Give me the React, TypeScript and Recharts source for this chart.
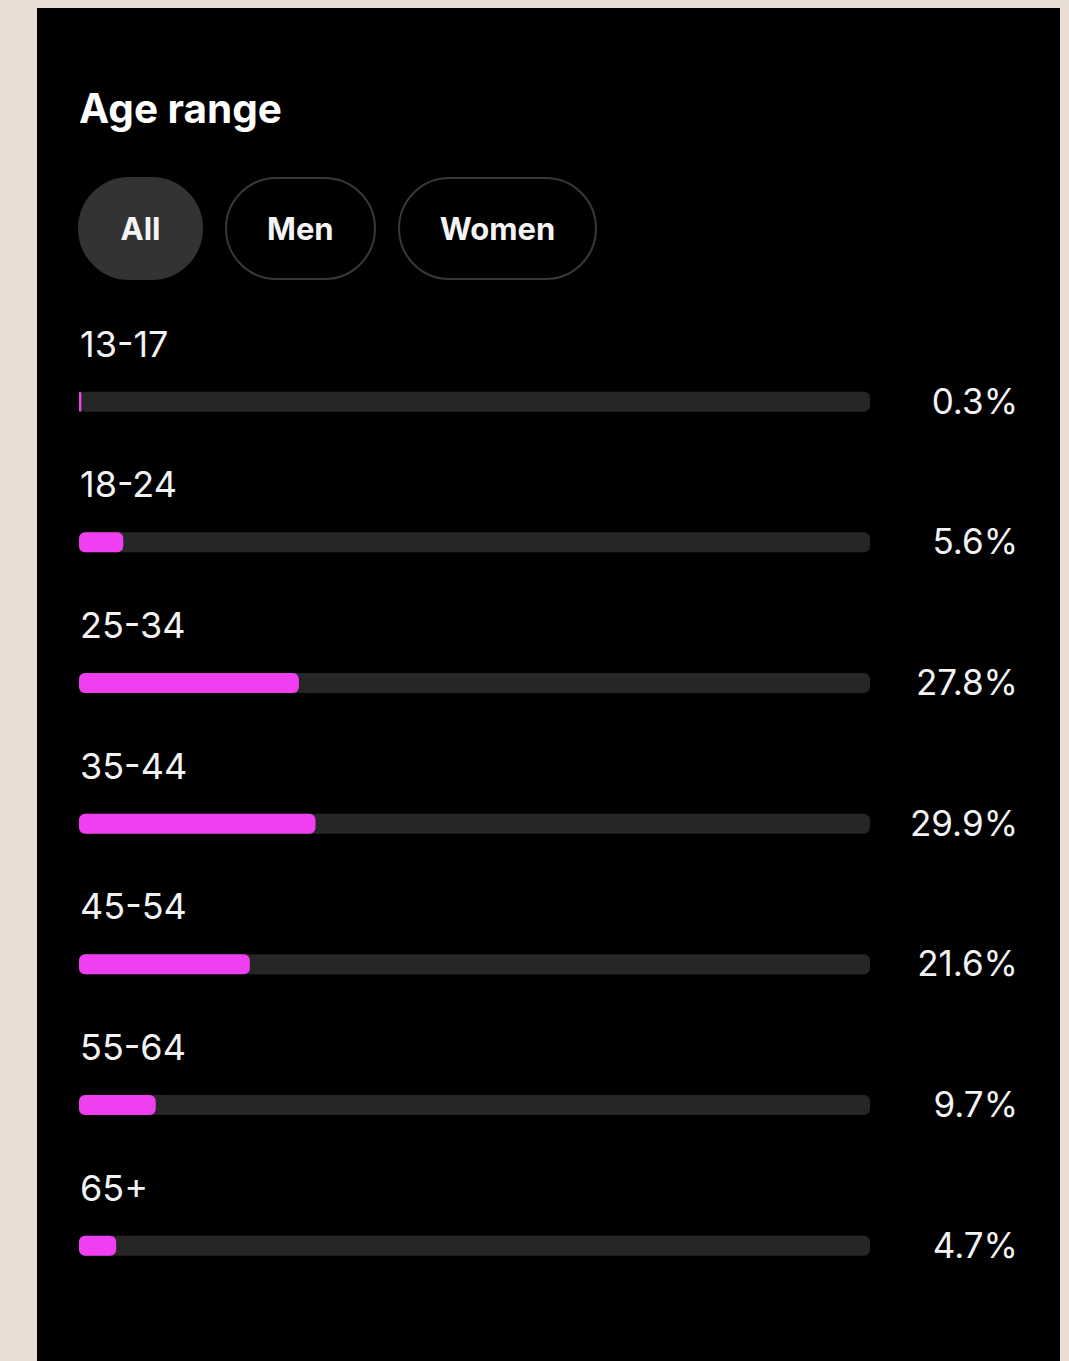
import React from "react";
import { BarChart, Bar, XAxis, YAxis, LabelList } from "recharts";

const ageGroups = ["13-17", "18-24", "25-34", "35-44", "45-54", "55-64", "65+"];
const shares = [0.3, 5.6, 27.8, 29.9, 21.6, 9.7, 4.7];
const filters = ["All", "Men", "Women"];
const activeFilter = "All";

const data = ageGroups.map((age, i) => ({ age, share: shares[i] }));

const font = "Inter, 'Noto Sans', sans-serif";

const AgeLabel = (props: any) => {
  const { x, y, value } = props;
  return (
    <text x={x + 1} y={y - 35} fill="#f2f2f2" fontSize={36} fontFamily={font} textAnchor="start">
      {value}
    </text>
  );
};

const ShareLabel = (props: any) => {
  const { y, value } = props;
  return (
    <text x={981} y={y + 22} fill="#f2f2f2" fontSize={35} fontFamily={font} textAnchor="end">
      {`${value}%`}
    </text>
  );
};

export default function App() {
  return (
    <div
      style={{
        position: "fixed",
        left: 0,
        top: 0,
        width: 1069,
        height: 1361,
        background: "#e9ddd4",
        overflow: "hidden",
        fontFamily: font,
      }}
    >
      <div
        style={{
          position: "absolute",
          left: 37,
          top: 8,
          width: 1023,
          height: 1353,
          background: "#000",
        }}
      >
        <div
          style={{
            position: "absolute",
            left: 42,
            top: 76,
            color: "#fff",
            fontSize: 40.5,
            fontWeight: 700,
            lineHeight: "50px",
          }}
        >
          Age range
        </div>
        <div style={{ position: "absolute", left: 41, top: 169, display: "flex", gap: 22 }}>
          {filters.map((f) => {
            const active = f === activeFilter;
            return (
              <div
                key={f}
                style={{
                  height: 103,
                  minWidth: 125,
                  boxSizing: "border-box",
                  padding: "0 40px",
                  borderRadius: 52,
                  border: active ? "2px solid #333" : "2px solid #383838",
                  background: active ? "#333" : "#000",
                  color: "#f4f4f4",
                  fontSize: 31,
                  fontWeight: 700,
                  display: "flex",
                  alignItems: "center",
                  justifyContent: "center",
                }}
              >
                {f}
              </div>
            );
          })}
        </div>
        <div style={{ position: "absolute", left: 0, top: 0 }}>
          <BarChart
            width={1023}
            height={1353}
            data={data}
            layout="vertical"
            margin={{ top: 323.67, right: 190, bottom: 44.66, left: 42 }}
          >
            <XAxis type="number" domain={[0, 100]} hide />
            <YAxis type="category" dataKey="age" hide />
            <Bar
              dataKey="share"
              fill="#f03ff0"
              barSize={20}
              radius={6}
              background={{ fill: "#262626", radius: 6 } as any}
              isAnimationActive={false}
            >
              <LabelList dataKey="age" content={AgeLabel} />
              <LabelList dataKey="share" content={ShareLabel} />
            </Bar>
          </BarChart>
        </div>
      </div>
    </div>
  );
}
